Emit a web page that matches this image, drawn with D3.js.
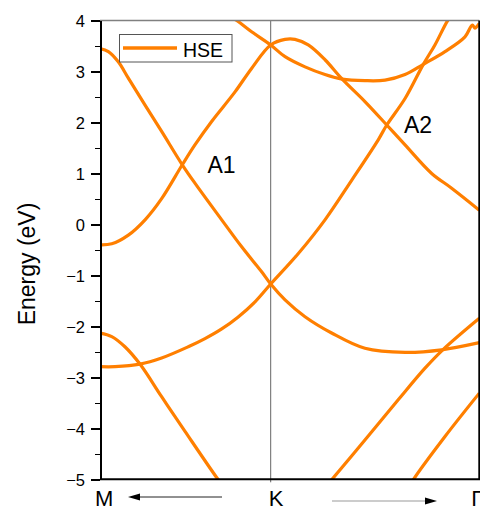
<!DOCTYPE html>
<html lang="en">
<head>
<meta charset="utf-8">
<title>HSE band structure</title>
<script src="https://d3js.org/d3.v7.min.js"></script>
<style>
  body { margin: 0; background: #fff; }
  svg { font-family: "Liberation Sans", Arial, sans-serif; }
  .axis path, .axis line { fill: none; stroke: #000; shape-rendering: crispEdges; }
  .axis text { font-size: 16.5px; fill: #000; }
</style>
</head>
<body>
<div id="chart"></div>
<script>
// k path: M = 0, K = 1, Gamma = 2.222 ; energies in eV
var kLabels = ["M", "K", "\u0393"];
var kTicks = [0, 1, 2.222];
var yTicks = [-5, -4, -3, -2, -1, 0, 1, 2, 3, 4];

var bandA_k = [0, 0.049, 0.107, 0.166, 0.264, 0.362, 0.482, 0.556, 0.713, 0.830, 0.947, 1.0, 1.084, 1.201, 1.357, 1.552, 1.787, 2.002, 2.222];
var bandA_e = [3.45, 3.39, 3.19, 2.87, 2.34, 1.82, 1.17, 0.81, 0.09, -0.44, -0.93, -1.17, -1.48, -1.81, -2.13, -2.43, -2.51, -2.46, -2.32];

var bandB_k = [0, 0.069, 0.166, 0.264, 0.362, 0.482, 0.556, 0.654, 0.791, 0.888, 1.0, 1.084, 1.142, 1.220, 1.318, 1.419, 1.552, 1.680, 1.787, 1.943, 2.060, 2.222];
var bandB_e = [-0.40, -0.38, -0.21, 0.09, 0.51, 1.17, 1.56, 2.02, 2.60, 3.06, 3.52, 3.63, 3.63, 3.52, 3.23, 2.85, 2.41, 1.95, 1.56, 1.00, 0.71, 0.28];

var bandC_k = [0.75, 0.801, 0.888, 1.0, 1.084, 1.201, 1.318, 1.419, 1.552, 1.670, 1.787, 1.894, 2.021, 2.138, 2.181, 2.197, 2.210, 2.222];
var bandC_e = [4.1, 4.0, 3.78, 3.52, 3.29, 3.09, 2.94, 2.85, 2.82, 2.83, 2.94, 3.14, 3.39, 3.68, 3.91, 3.85, 3.89, 3.94];

var bandD_k = [0, 0.088, 0.234, 0.361, 0.517, 0.615, 0.713, 0.808, 0.908, 1.0, 1.162, 1.318, 1.475, 1.630, 1.680, 1.787, 1.894, 1.962, 2.037, 2.062];
var bandD_e = [-2.79, -2.79, -2.74, -2.62, -2.40, -2.24, -2.05, -1.82, -1.52, -1.17, -0.57, 0.09, 0.87, 1.66, 1.95, 2.47, 3.14, 3.52, 4.0, 4.1];

var bandE_k = [0, 0.069, 0.146, 0.234, 0.361, 0.498, 0.693, 0.715];
var bandE_e = [-2.13, -2.20, -2.40, -2.74, -3.38, -4.06, -5.01, -5.1];

var bandF_k = [1.335, 1.357, 1.552, 1.747, 1.904, 2.011, 2.222];
var bandF_e = [-5.1, -5.01, -4.23, -3.44, -2.82, -2.45, -1.84];

var bandG_k = [1.82, 1.835, 2.021, 2.222];
var bandG_e = [-5.1, -5.01, -4.16, -3.31];

var bands = [
  [bandA_k, bandA_e], [bandB_k, bandB_e], [bandC_k, bandC_e], [bandD_k, bandD_e],
  [bandE_k, bandE_e], [bandF_k, bandF_e], [bandG_k, bandG_e]
];

var W = 480, H = 509;
var plotL = 100, plotR = 479.3, plotT = 20.5, plotB = 479.3;
var orange = "#ff7f00";

var svg = d3.select("#chart").append("svg")
  .attr("width", W)
  .attr("height", H);

var x = d3.scaleLinear().domain([0, 2.222]).range([plotL, plotR]);
var y = d3.scaleLinear().domain([-5, 4]).range([plotB, plotT]);

svg.append("clipPath").attr("id", "plotclip")
  .append("rect")
  .attr("x", plotL).attr("y", plotT)
  .attr("width", plotR - plotL).attr("height", plotB - plotT);

// K line
svg.append("line")
  .attr("x1", x(1)).attr("x2", x(1))
  .attr("y1", plotT).attr("y2", plotB + 3)
  .attr("stroke", "#666").attr("stroke-width", 1);

// bands
var line = d3.line()
  .x(function(d) { return x(d[0]); })
  .y(function(d) { return y(d[1]); })
  .curve(d3.curveCatmullRom.alpha(0.5));

svg.append("g")
  .attr("clip-path", "url(#plotclip)")
  .selectAll("path")
  .data(bands)
  .enter()
  .append("path")
  .attr("d", function(b) { return line(b[0].map(function(k, i) { return [k, b[1][i]]; })); })
  .attr("fill", "none")
  .attr("stroke", orange)
  .attr("stroke-width", 3.2)
  .attr("stroke-linejoin", "round");

// frame
svg.append("line")
  .attr("x1", plotL).attr("x2", plotR).attr("y1", plotT).attr("y2", plotT)
  .attr("stroke", "#808080").attr("stroke-width", 1.5);
svg.append("line")
  .attr("x1", plotR).attr("x2", plotR).attr("y1", plotT).attr("y2", plotB)
  .attr("stroke", "#000").attr("stroke-width", 2);
svg.append("line")
  .attr("x1", plotL).attr("x2", plotR + 1).attr("y1", plotB).attr("y2", plotB)
  .attr("stroke", "#000").attr("stroke-width", 2);

// y axis, minor ticks first
var minor = d3.range(-4.5, 4, 1);
svg.append("g")
  .attr("class", "axis")
  .attr("transform", "translate(" + plotL + ",0)")
  .call(d3.axisLeft(y).tickValues(minor).tickSize(5).tickSizeOuter(0).tickFormat(""))
  .select(".domain").remove();

var yAxis = svg.append("g")
  .attr("class", "axis")
  .attr("transform", "translate(" + plotL + ",0)")
  .call(d3.axisLeft(y).tickValues(yTicks).tickSize(9).tickSizeOuter(0).tickPadding(6));
yAxis.select(".domain").attr("stroke-width", 2);
yAxis.selectAll(".tick line").attr("stroke-width", 1.5);
yAxis.selectAll(".tick text").attr("dy", "0.36em");

svg.append("text")
  .attr("transform", "translate(35," + 264 + ") rotate(-90)")
  .style("text-anchor", "middle")
  .style("font-size", "23px")
  .text("Energy (eV)");

// k labels
svg.selectAll(".klabel")
  .data(kLabels)
  .enter()
  .append("text")
  .attr("class", "klabel")
  .attr("x", function(d, i) { return x(kTicks[i]) + [-5, -2, -8][i]; })
  .attr("y", 505.5)
  .style("font-size", "22px")
  .text(function(d) { return d; });

// direction arrows
svg.append("line")
  .attr("x1", 222).attr("x2", 138).attr("y1", 497).attr("y2", 497)
  .attr("stroke", "#222").attr("stroke-width", 1);
svg.append("path")
  .attr("d", "M128,497 L140,493.5 L140,500.5 Z")
  .attr("fill", "#000");
svg.append("line")
  .attr("x1", 332).attr("x2", 428).attr("y1", 501).attr("y2", 501)
  .attr("stroke", "#999").attr("stroke-width", 1.2);
svg.append("path")
  .attr("d", "M437,501 L425,497.5 L425,504.5 Z")
  .attr("fill", "#000");

// crossing labels
svg.append("text").attr("x", 207.5).attr("y", 172.5)
  .style("font-size", "23px").text("A1");
svg.append("text").attr("x", 404).attr("y", 133.3)
  .style("font-size", "23px").text("A2");

// legend
svg.append("rect")
  .attr("x", 119.5).attr("y", 34.5).attr("width", 112.5).attr("height", 27.5)
  .attr("fill", "#fff").attr("stroke", "#555").attr("stroke-width", 1);
svg.append("line")
  .attr("x1", 123).attr("x2", 177).attr("y1", 48).attr("y2", 48)
  .attr("stroke", orange).attr("stroke-width", 3.5);
svg.append("text").attr("x", 183).attr("y", 56.5)
  .style("font-size", "19.5px").text("HSE");
</script>
</body>
</html>
